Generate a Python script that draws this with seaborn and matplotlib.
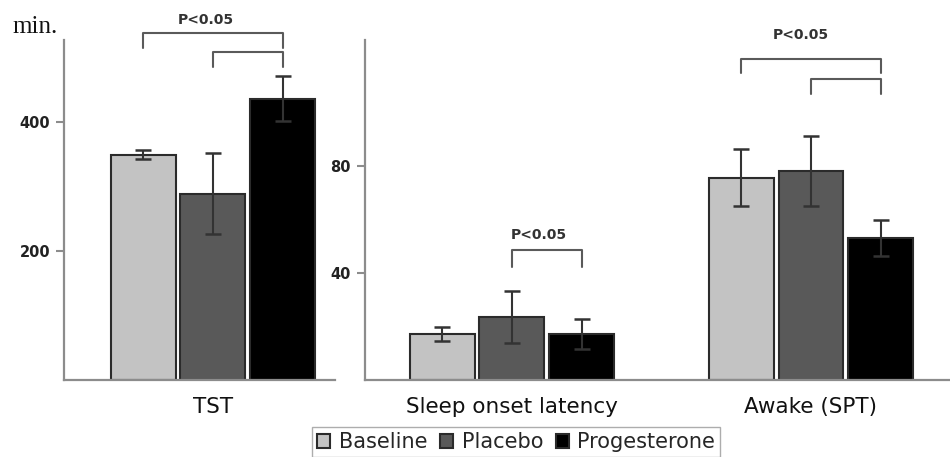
import matplotlib.pyplot as plt
import numpy as np
import pandas as pd
import seaborn as sns

groups = ['TST', 'Sleep onset latency', 'Awake (SPT)']
conditions = ['Baseline', 'Placebo', 'Progesterone']
tst_mean = [349, 289, 436]
tst_err = [7, 63, 35]
sol_mean = [17.1, 23.6, 17.1]
sol_err = [2.7, 9.8, 5.7]
awake_mean = [75.6, 78.1, 52.9]
awake_err = [10.5, 13.0, 6.7]
colors = ['#c3c3c3', '#595959', '#000000']

df = pd.DataFrame({
    'group': np.repeat(groups, 3),
    'cond': conditions * 3,
    'mean': tst_mean + sol_mean + awake_mean,
    'err': tst_err + sol_err + awake_err,
})

sns.set_theme(style='white')
plt.rcParams['font.family'] = ['DejaVu Sans']

fig = plt.figure(figsize=(9.5, 4.57), dpi=100)
rect = [64 / 950, 1 - 380 / 457, 886 / 950, 340 / 457]
ax1 = fig.add_axes(rect)
ax2 = fig.add_axes(rect)
ax2.patch.set_alpha(0)

bar_kw = dict(x='group', y='mean', hue='cond', order=groups, hue_order=conditions,
              palette=colors, width=0.70, gap=0.07, errorbar=None,
              edgecolor='#2b2b2b', linewidth=1.5)
sns.barplot(data=df[df.group == 'TST'], ax=ax1, legend=False, **bar_kw)
sns.barplot(data=df[df.group != 'TST'], ax=ax2, legend=True, **bar_kw)

xlim = (-0.498, 2.465)
ax2.spines['left'].set_position(('data', 0.508))
for ax in (ax1, ax2):
    ax.set_xlim(*xlim)
    ax.set_xlabel('')
    ax.set_ylabel('')
    for s in ('top', 'right'):
        ax.spines[s].set_visible(False)
    for s in ('left', 'bottom'):
        ax.spines[s].set_color('#8c8c8c')
        ax.spines[s].set_linewidth(1.6)
    ax.tick_params(axis='y', direction='out', length=6, width=1.5, color='#8c8c8c',
                   labelsize=10.5, labelcolor='#222222', pad=4, left=True)

ax1.set_ylim(0, 527)
ax1.set_yticks([200, 400], ['200', '400'], fontweight='bold')
ax2.set_ylim(0, 127)
ax2.set_yticks([40, 80], ['40', '80'], fontweight='bold')

ax1.spines['bottom'].set_bounds(xlim[0], 0.408)
ax2.spines['bottom'].set_bounds(0.508, xlim[1])

ax1.set_xticks(range(len(groups)))
ax1.set_xticklabels(groups, fontsize=15.5, color='#111111')
ax1.tick_params(axis='x', length=0, pad=12)
ax2.tick_params(axis='x', bottom=False, labelbottom=False)


def bar_center(ax, group, cond):
    for bar in ax.containers[conditions.index(cond)]:
        cx = bar.get_x() + bar.get_width() / 2
        if round(cx) == groups.index(group):
            return cx, bar.get_height()


for _, row in df.iterrows():
    ax = ax1 if row.group == 'TST' else ax2
    cx, h = bar_center(ax, row.group, row.cond)
    ax.errorbar(cx, h, yerr=row.err, color='#333333', capsize=6, elinewidth=1.5,
                capthick=1.8, zorder=3)


def bracket(ax, group, c0, c1, y_top, y_leg):
    x0 = bar_center(ax, group, c0)[0]
    x1 = bar_center(ax, group, c1)[0]
    ax.plot([x0, x0, x1, x1], [y_leg, y_top, y_top, y_leg], color='#5a5a5a',
            lw=1.5, clip_on=False)


def ptext(ax, x, y):
    ax.text(x, y, 'P<0.05', ha='center', va='center', fontsize=10,
            fontweight='bold', color='#333333', clip_on=False)


bracket(ax1, 'TST', 'Baseline', 'Progesterone', 538, 515)
bracket(ax1, 'TST', 'Placebo', 'Progesterone', 508.5, 485)
ptext(ax1, bar_center(ax1, 'TST', 'Placebo')[0] - 0.025, 558)

bracket(ax2, 'Sleep onset latency', 'Placebo', 'Progesterone', 48.5, 42.3)
ptext(ax2, bar_center(ax2, 'Sleep onset latency', 'Placebo')[0] + 0.09, 54.1)

bracket(ax2, 'Awake (SPT)', 'Baseline', 'Progesterone', 120, 114.7)
bracket(ax2, 'Awake (SPT)', 'Placebo', 'Progesterone', 112.6, 107)
ptext(ax2, bar_center(ax2, 'Awake (SPT)', 'Placebo')[0] - 0.035, 128.7)

fig.text(12 / 950, 1 - 27 / 457, 'min.', ha='left', va='center', fontsize=18,
         family='Liberation Serif', color='#111111')

sns.move_legend(ax2, 'upper center', bbox_to_anchor=(516 / 950, 1 - 427 / 457),
                bbox_transform=fig.transFigure, ncol=3, title=None, frameon=True,
                fontsize=15, handlelength=0.65, handleheight=0.65, handletextpad=0.4,
                columnspacing=0.6, borderpad=0.25, borderaxespad=0, fancybox=False,
                edgecolor='#999999')
ax2.get_legend().get_frame().set_linewidth(1.0)

fig.savefig('out.png', dpi=100)
